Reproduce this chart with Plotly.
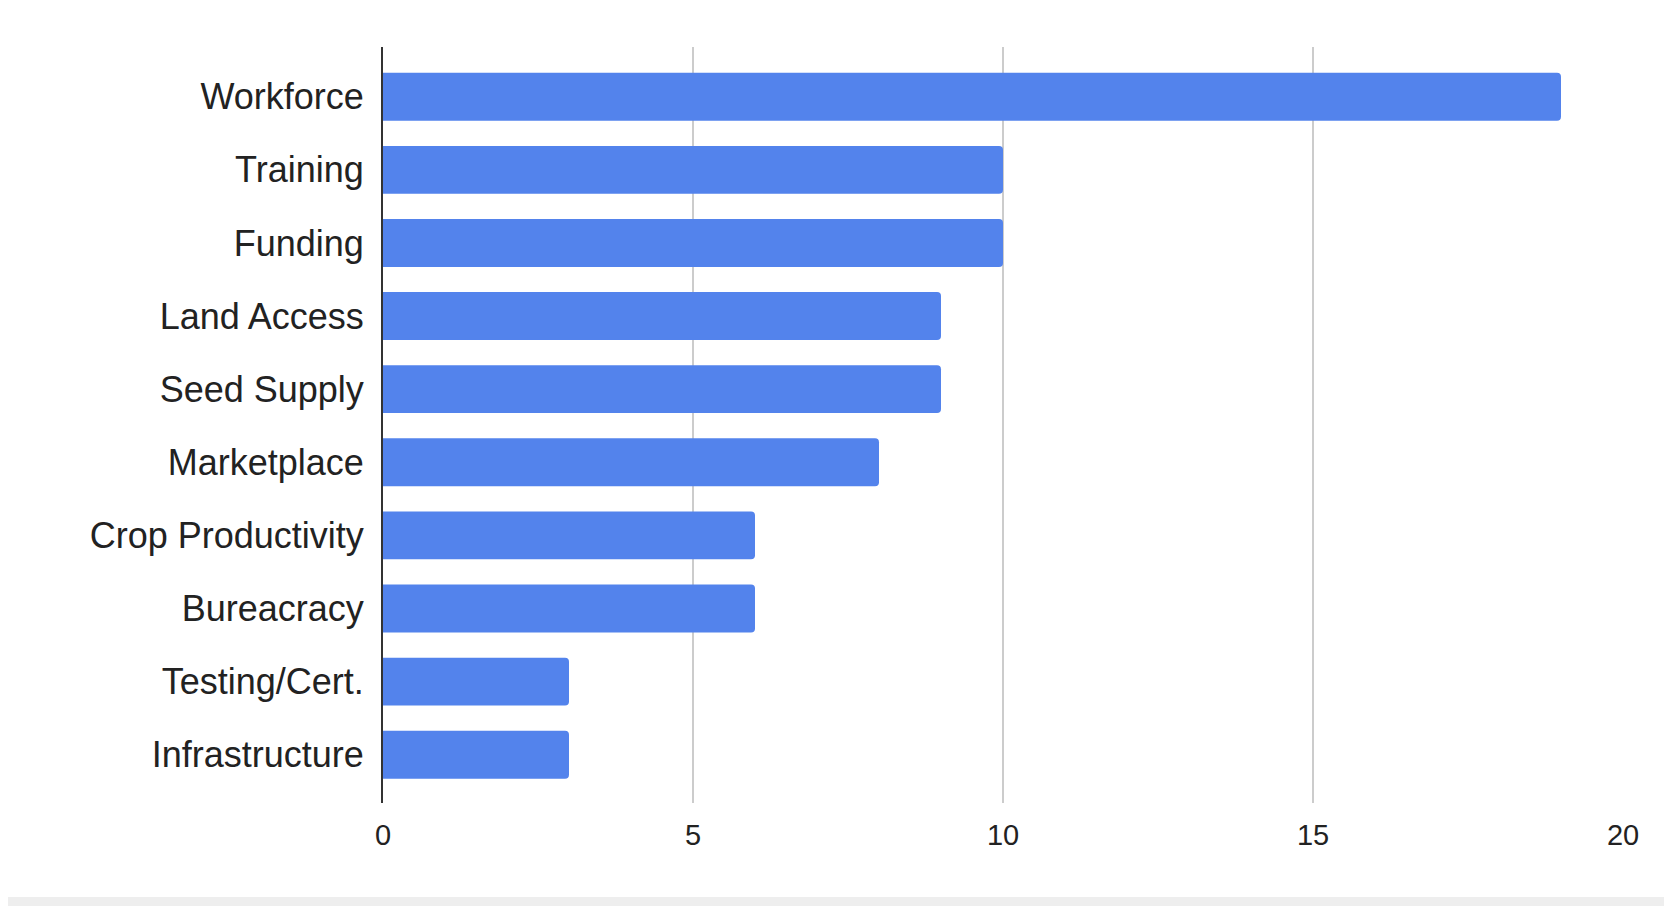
import plotly.graph_objects as go

# categories top to bottom
categories = ['Workforce', 'Training', 'Funding', 'Land Access', 'Seed Supply',
              'Marketplace', 'Crop Productivity', 'Bureacracy', 'Testing/Cert.',
              'Infrastructure']
counts = [19, 10, 10, 9, 9, 8, 6, 6, 3, 3]
x_ticks = [0, 5, 10, 15, 20]

# page body has an 8px margin, so the figure is 8px smaller than the window
W, H = 1664, 898
L, R, T, B = 375, 49, 39, 103
pw = W - L - R
ph = H - T - B

fig = go.Figure()

fig.add_trace(go.Bar(
    x=counts,
    y=categories,
    orientation='h',
    marker={'color': '#5383ec', 'line': {'width': 0}},
    hoverinfo='x+y',
))

# light grey frame round the white card (right and bottom edges)
fig.add_shape(
    type='rect', xref='paper', yref='paper', layer='below',
    x0=(-10 - L) / pw, x1=(1663 - L) / pw,
    y0=(H - 889 - B) / ph, y1=(H + 10 - B) / ph,
    fillcolor='white', line={'width': 0},
)

fig.update_layout(
    width=W, height=H,
    margin={'l': L, 'r': R, 't': T, 'b': B, 'pad': 0},
    paper_bgcolor='#eeeeee',
    plot_bgcolor='white',
    bargap=0.345,
    barcornerradius=4,
    showlegend=False,
    font={'family': 'Liberation Sans, Arial, sans-serif', 'color': '#222222'},
)

fig.update_xaxes(
    range=[0, 20],
    tickvals=x_ticks,
    showgrid=True, gridcolor='#cccccc', gridwidth=2,
    zeroline=False,
    showline=False,
    ticks='',
    tickfont={'size': 29, 'color': '#222222'},
    ticklabelstandoff=12,
    fixedrange=True,
)

fig.update_yaxes(
    type='category',
    categoryorder='array', categoryarray=categories,
    range=[9.66, -0.68],
    showgrid=False,
    showline=True, linecolor='#333333', linewidth=2,
    ticks='',
    tickfont={'size': 36, 'color': '#222222'},
    ticklabelstandoff=10,
    fixedrange=True,
)

fig.write_html('out.html')
